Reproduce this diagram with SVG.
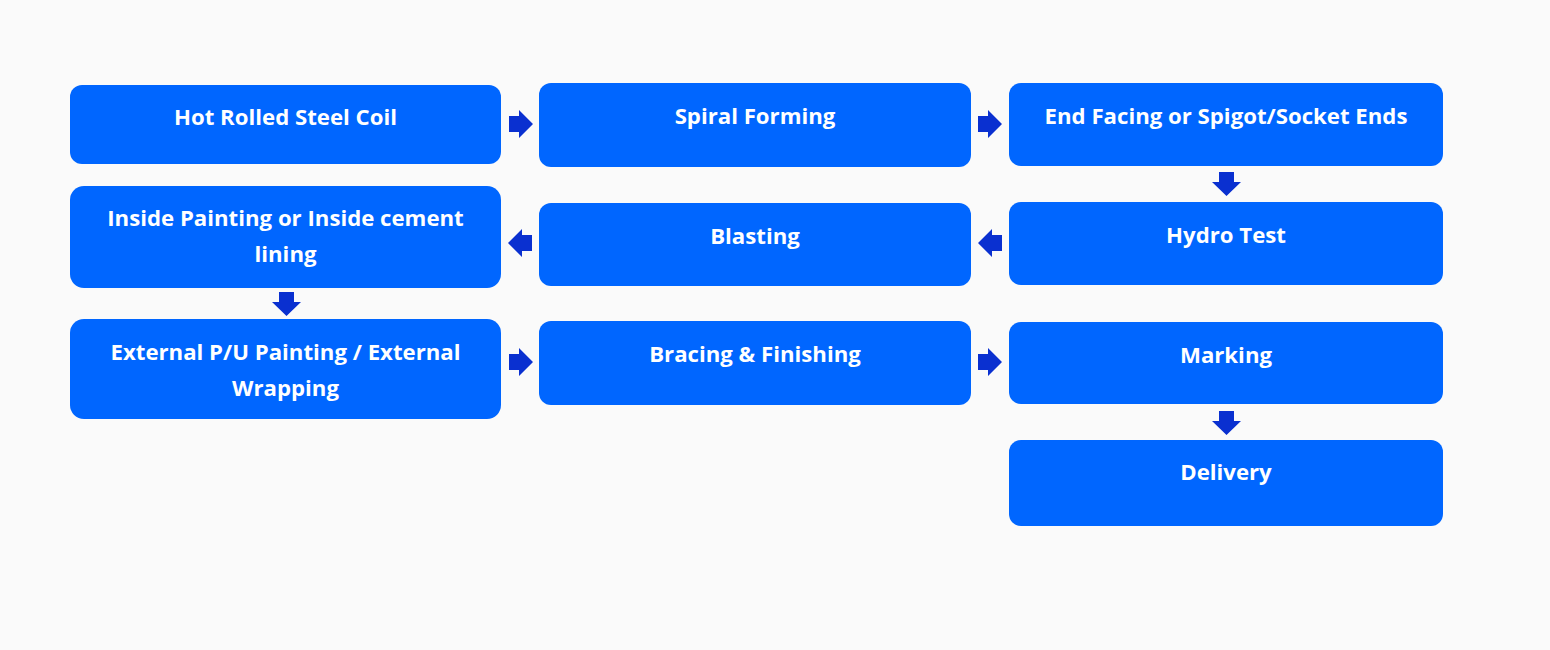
<svg xmlns="http://www.w3.org/2000/svg" width="1550" height="650" viewBox="0 0 1550 650">
<defs>
<style>
.box{fill:#0066FF;}
.t{fill:#FFFFFF;font-family:"Open Sans","Liberation Sans",sans-serif;font-weight:bold;font-size:22.2px;text-anchor:middle;}
.arr{fill:#0A30D0;}
</style>
</defs>
<rect x="0" y="0" width="1550" height="650" fill="#FAFAFA"/>
<g id="connectors">
<path class="arr" d="M509,116 H519 V110 L533,124 L519,138 V132 H509 Z"/>
<path class="arr" d="M978,116 H988 V110 L1002,124 L988,138 V132 H978 Z"/>
<path class="arr" d="M1219,172 H1234 V182 H1241 L1226.5,196 L1212,182 H1219 Z"/>
<path class="arr" d="M1002,235 H992 V229 L978,243 L992,257 V251 H1002 Z"/>
<path class="arr" d="M532,235 H522 V229 L508,243 L522,257 V251 H532 Z"/>
<path class="arr" d="M279,292 H294 V302 H301 L286.5,316 L272,302 H279 Z"/>
<path class="arr" d="M509,354 H519 V348 L533,362 L519,376 V370 H509 Z"/>
<path class="arr" d="M978,354 H988 V348 L1002,362 L988,376 V370 H978 Z"/>
<path class="arr" d="M1219,411 H1234 V421 H1241 L1226.5,435 L1212,421 H1219 Z"/>
</g>
<g id="n1"><rect class="box" x="70" y="85" width="431" height="79" rx="12"/><text class="t" x="285.5" y="125">Hot Rolled Steel Coil</text></g>
<g id="n2"><rect class="box" x="539" y="83" width="432" height="84" rx="12"/><text class="t" x="755" y="124">Spiral Forming</text></g>
<g id="n3"><rect class="box" x="1009" y="83" width="434" height="83" rx="12"/><text class="t" x="1226" y="124">End Facing or Spigot/Socket Ends</text></g>
<g id="n4"><rect class="box" x="70" y="186" width="431" height="102" rx="14"/><text class="t" x="285.5" y="226">Inside Painting or Inside cement</text><text class="t" x="285.5" y="262">lining</text></g>
<g id="n5"><rect class="box" x="539" y="203" width="432" height="83" rx="12"/><text class="t" x="755" y="244">Blasting</text></g>
<g id="n6"><rect class="box" x="1009" y="202" width="434" height="83" rx="12"/><text class="t" x="1226" y="243">Hydro Test</text></g>
<g id="n7"><rect class="box" x="70" y="319" width="431" height="100" rx="14"/><text class="t" x="285.5" y="360">External P/U Painting / External</text><text class="t" x="285.5" y="396">Wrapping</text></g>
<g id="n8"><rect class="box" x="539" y="321" width="432" height="84" rx="12"/><text class="t" x="755" y="362">Bracing &amp; Finishing</text></g>
<g id="n9"><rect class="box" x="1009" y="322" width="434" height="82" rx="12"/><text class="t" x="1226" y="363">Marking</text></g>
<g id="n10"><rect class="box" x="1009" y="440" width="434" height="86" rx="12"/><text class="t" x="1226" y="480">Delivery</text></g>
</svg>
